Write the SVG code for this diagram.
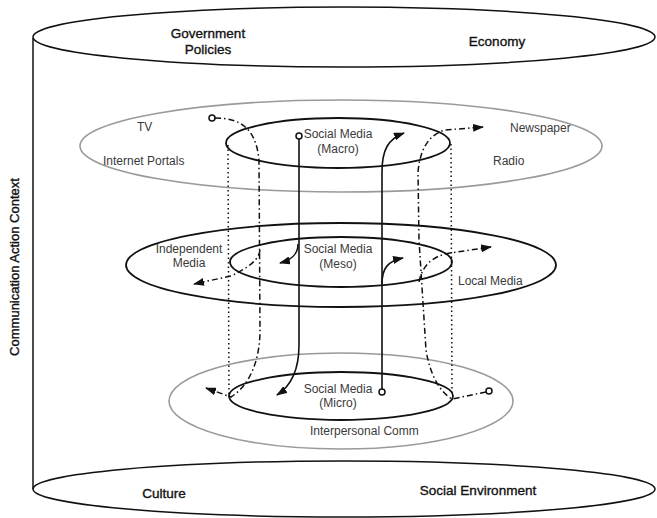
<svg xmlns="http://www.w3.org/2000/svg" width="657" height="518" viewBox="0 0 657 518">
<style>
  .ctx{fill:none;stroke:#111;stroke-width:1.5}
  .gray{fill:none;stroke:#9a9a9a;stroke-width:1.6}
  .blk{fill:none;stroke:#111;stroke-width:1.8}
  .big{font-family:"Liberation Sans",Arial,sans-serif;font-size:13.5px;fill:#111;stroke:#111;stroke-width:0.35;text-anchor:middle}
  .lbl{font-family:"Liberation Sans",Arial,sans-serif;font-size:12px;fill:#3a3a3a}
  .mid{text-anchor:middle}
  .solid{fill:none;stroke:#111;stroke-width:1.6}
  .dashdot{fill:none;stroke:#111;stroke-width:1.5;stroke-dasharray:6 3 1.5 3}
  .dot{fill:none;stroke:#111;stroke-width:1.5;stroke-dasharray:1.5 3}
  .start{fill:#fff;stroke:#111;stroke-width:1.5}
</style>
<defs>
  <marker id="arr" markerWidth="11" markerHeight="8" refX="10" refY="4" orient="auto" markerUnits="userSpaceOnUse">
    <path d="M0,0 L11,4 L0,8 Z" fill="#111"/>
  </marker>
</defs>

<g id="context">
  <line class="ctx" x1="33" y1="38" x2="33" y2="489"/>
  <ellipse class="ctx" cx="344" cy="37" rx="311" ry="30"/>
  <ellipse class="ctx" cx="344" cy="489" rx="311" ry="28"/>
  <text class="big" x="208" y="38">Government</text>
  <text class="big" x="208" y="54">Policies</text>
  <text class="big" x="497" y="46">Economy</text>
  <text class="big" x="164" y="498">Culture</text>
  <text class="big" x="478" y="495">Social Environment</text>
  <text class="big" x="14" y="267" transform="rotate(-90 14 267)" dominant-baseline="central" style="font-size:13px">Communication Action Context</text>
</g>

<g id="macro">
  <ellipse class="gray" cx="341" cy="146" rx="261" ry="46"/>
  <ellipse class="blk" cx="338" cy="143" rx="112" ry="25"/>
  <text class="lbl" x="137" y="131">TV</text>
  <text class="lbl" x="103" y="165">Internet Portals</text>
  <text class="lbl" x="510" y="132">Newspaper</text>
  <text class="lbl" x="493" y="165">Radio</text>
  <text class="lbl mid" x="338" y="138">Social Media</text>
  <text class="lbl mid" x="338" y="153">(Macro)</text>
</g>

<g id="meso">
  <ellipse class="blk" cx="341" cy="265" rx="215" ry="42"/>
  <ellipse class="blk" cx="341" cy="262" rx="111" ry="25"/>
  <text class="lbl mid" x="189" y="253">Independent</text>
  <text class="lbl mid" x="189" y="267">Media</text>
  <text class="lbl" x="458" y="285">Local Media</text>
  <text class="lbl mid" x="338" y="253">Social Media</text>
  <text class="lbl mid" x="338" y="268">(Meso)</text>
</g>

<g id="micro">
  <ellipse class="gray" cx="341" cy="401" rx="172" ry="48"/>
  <ellipse class="blk" cx="341" cy="396" rx="112" ry="24"/>
  <text class="lbl mid" x="338" y="393">Social Media</text>
  <text class="lbl mid" x="338" y="407">(Micro)</text>
  <text class="lbl" x="310" y="435">Interpersonal Comm</text>
</g>

<g id="connectors">
  <line class="dot" x1="228" y1="145" x2="229" y2="396"/>
  <line class="dot" x1="451" y1="144" x2="452" y2="396"/>
  <path class="solid" d="M299,139 L299,345 C299,370 291,386 277,395" marker-end="url(#arr)"/>
  <path class="solid" d="M298,244 C298,255 291,260 280,263" marker-end="url(#arr)"/>
  <path class="solid" d="M382,389 L382,172 C382,150 388,139 404,133" marker-end="url(#arr)"/>
  <path class="solid" d="M382,284 C382,268 388,261 403,258" marker-end="url(#arr)"/>
  <path class="dashdot" d="M215,118 C240,118 256,128 259,160 L260,330 C260,360 250,385 231,397 L206,388" marker-end="url(#arr)"/>
  <path class="dashdot" d="M260,250 C259,259 250,267 231,276 L194,284" marker-end="url(#arr)"/>
  <path class="dashdot" d="M486,392 L452,399 C440,392 430,375 426,350 L419,240 L418,172 C420,150 428,135 445,130 L483,127" marker-end="url(#arr)"/>
  <path class="dashdot" d="M419,282 C422,266 432,256 450,253 L491,247" marker-end="url(#arr)"/>
  <circle class="start" cx="212" cy="118" r="3"/>
  <circle class="start" cx="299" cy="136" r="3"/>
  <circle class="start" cx="382" cy="392" r="3"/>
  <circle class="start" cx="489" cy="391" r="3"/>
</g>
</svg>
